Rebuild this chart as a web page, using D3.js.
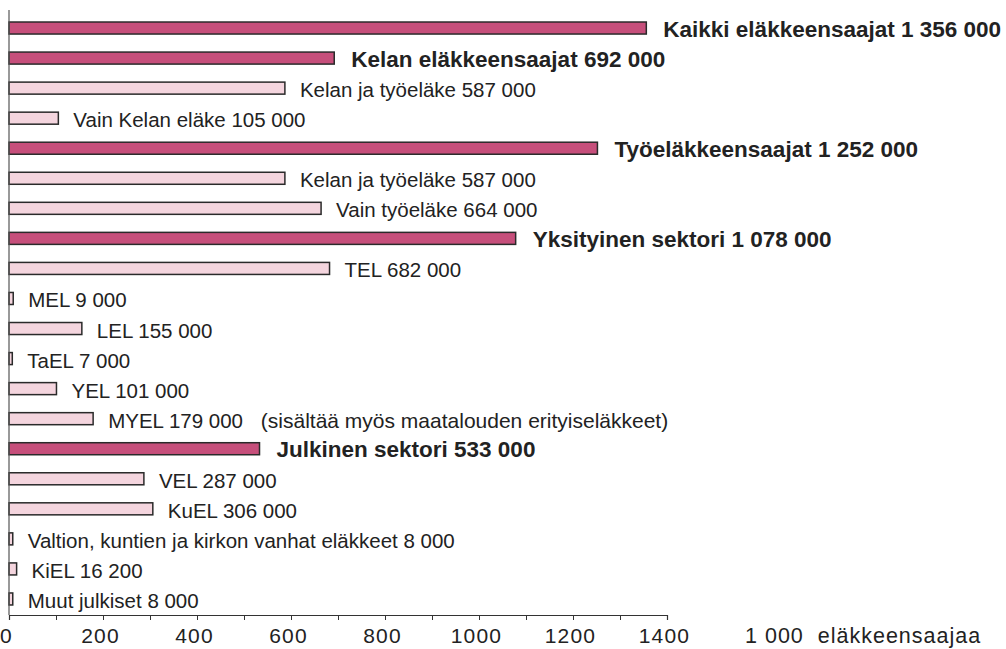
<!DOCTYPE html>
<html><head><meta charset="utf-8">
<script src="https://cdn.jsdelivr.net/npm/d3@7"></script>
<style>body{margin:0;background:#fff}svg{display:block}</style>
</head><body>
<script>
const categories = ["Kaikki eläkkeensaajat","Kelan eläkkeensaajat","Kelan ja työeläke","Vain Kelan eläke","Työeläkkeensaajat","Kelan ja työeläke","Vain työeläke","Yksityinen sektori","TEL","MEL","LEL","TaEL","YEL","MYEL","Julkinen sektori","VEL","KuEL","Valtion, kuntien ja kirkon vanhat eläkkeet","KiEL","Muut julkiset"];
const values = [1356,692,587,105,1252,587,664,1078,682,9,155,7,101,179,533,287,306,8,16.2,8];
const isTotal = [true,true,false,false,true,false,false,true,false,false,false,false,false,false,true,false,false,false,false,false];
const notes = ["","","","","","","","","","","","","","(sisältää myös maatalouden erityiseläkkeet)","","","","","",""];
const xTicks = [0,100,200,300,400,500,600,700,800,900,1000,1100,1200,1300,1400];
const unitLabel = "1 000\u00a0\u00a0eläkkeensaajaa";

const rows = categories.map((c,i)=>({i, name:c, value:values[i], total:isTotal[i], note:notes[i]}));

const W=1006,H=649;
const FONT="Liberation Sans, Arial, sans-serif";
const svg=d3.select("body").append("svg").attr("width",W).attr("height",H);
const x=d3.scaleLinear().domain([0,1400]).range([9,667]);
const y=d3.scaleBand().domain(d3.range(categories.length)).range([13,614]).paddingInner(0.6).paddingOuter(0.3);
const loc=d3.formatLocale({decimal:",",thousands:" ",grouping:[3],currency:["",""]});
const fmt=loc.format(",d");

// bars
svg.append("g").selectAll("rect").data(rows).join("rect")
  .attr("x",x(0)).attr("y",d=>y(d.i))
  .attr("width",d=>x(d.value)-x(0)).attr("height",y.bandwidth())
  .attr("fill",d=>d.total?"#c64f7b":"#f4d5de")
  .attr("stroke","#2a2a2a").attr("stroke-width",1.5);

// labels
const lab=svg.append("g").selectAll("text").data(rows).join("text")
  .attr("x",d=>x(d.value)+(d.total?17:15))
  .attr("y",d=>y(d.i)+y.bandwidth()/2)
  .attr("dy",d=>d.total?"0.38em":"0.44em")
  .attr("font-family",FONT)
  .attr("font-size",d=>d.total?"22.5px":"20.5px")
  .attr("font-weight",d=>d.total?"bold":"normal")
  .attr("fill","#222");
lab.append("tspan").text(d=>d.name+" "+fmt(Math.round(d.value*1000)));
lab.filter(d=>d.note).append("tspan").attr("font-size","21px").attr("dx","12")
  .text(d=>" "+d.note);

// axes
const xa=svg.append("g").attr("transform","translate(0,615)")
  .call(d3.axisBottom(x).tickValues(xTicks).tickSize(5).tickFormat(d=>d%200===0?d:""));
xa.select(".domain").attr("stroke","#333").attr("stroke-width",1.2);
xa.selectAll(".tick line").attr("stroke","#333");
xa.selectAll(".tick text").attr("font-family",FONT)
  .attr("font-size","21px").attr("letter-spacing","1.2px").attr("fill","#222")
  .attr("y",28).attr("dy","0").attr("dx","-3");
svg.append("line").attr("x1",x(0)).attr("x2",x(0)).attr("y1",10).attr("y2",615)
  .attr("stroke","#555").attr("stroke-width",1.2);
svg.append("text").attr("x",745).attr("y",643).attr("font-family",FONT)
  .attr("font-size","21.5px").attr("letter-spacing","1px").attr("fill","#222").text(unitLabel);
</script>
</body></html>
